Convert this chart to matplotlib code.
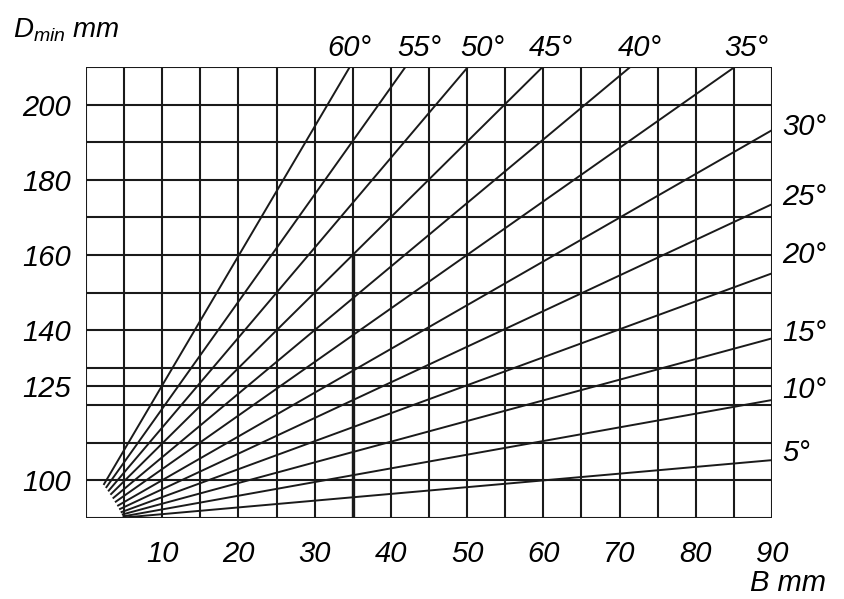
import matplotlib
matplotlib.use('Agg')
import matplotlib.pyplot as plt

# fonts: italic Arial-like everywhere
matplotlib.rcParams.update({'font.family': 'Liberation Sans', 'font.style': 'italic',
                            'font.size': 21, 'mathtext.fontset': 'custom',
                            'mathtext.it': 'Liberation Sans:italic',
                            'mathtext.rm': 'Liberation Sans:italic'})

# grid of the nomogram
grid_b = [0, 5, 10, 15, 20, 25, 30, 35, 40, 45, 50, 55, 60, 65, 70, 75, 80, 85, 90]
grid_d = [90, 100, 110, 120, 125, 130, 140, 150, 160, 170, 180, 190, 200, 210]
xtick_vals = [10, 20, 30, 40, 50, 60, 70, 80, 90]
ytick_vals = [100, 125, 140, 160, 180, 200]

# fan lines, one per angle: start point on the small arc, end point on the frame
angles = [5, 10, 15, 20, 25, 30, 35, 40, 45, 50, 55, 60]
start_b = [4.85, 4.8, 4.7, 4.55, 4.35, 4.1, 3.8, 3.5, 3.2, 2.9, 2.6, 2.3]
start_d = [90.1, 90.4, 90.9, 91.5, 92.3, 93.2, 94.2, 95.2, 96.2, 97.1, 98.0, 98.8]
end_b = [90, 90, 90, 90, 90, 90, 85.1, 71.4, 59.9, 50.1, 41.9, 34.6]
end_d = [105.4, 121.4, 137.8, 155.1, 173.5, 193.2, 210, 210, 210, 210, 210, 210]

# where the angle labels sit
top_labels = [35, 40, 45, 50, 55, 60]
top_label_b = [86.6, 72.7, 61.0, 52.0, 43.7, 34.6]
side_labels = [5, 10, 15, 20, 25, 30]
side_label_d = [107.3, 124.0, 139.2, 160.0, 175.4, 194.0]

fig = plt.figure(figsize=(8.45, 5.99), dpi=100)
ax = fig.add_axes([0.1018, 0.1352, 0.8118, 0.7529])
ax.set_xlim(0, 90)
ax.set_ylim(90, 210)

col = '#1a1a1a'
for b in grid_b:
    ax.axvline(b, color=col, lw=1.5, zorder=1)
for d in grid_d:
    ax.axhline(d, color=col, lw=1.5, zorder=1)
# heavier segment at B = 35
ax.plot([35, 35], [90, 160], color=col, lw=2.4, zorder=1)

for i in range(len(angles)):
    ax.plot([start_b[i], end_b[i]], [start_d[i], end_d[i]], color=col, lw=1.4,
            solid_capstyle='butt', zorder=2)

for ang, b in zip(top_labels, top_label_b):
    ax.text(b, 213.0, '%d°' % ang, ha='center', va='baseline', clip_on=False)
for ang, d in zip(side_labels, side_label_d):
    ax.text(91.4, d, '%d°' % ang, ha='left', va='center', clip_on=False)

ax.set_xticks(xtick_vals)
ax.set_yticks(ytick_vals)
ax.tick_params(length=0)
ax.tick_params(axis='x', pad=16)
ax.tick_params(axis='y', pad=11)
for s in ax.spines.values():
    s.set_visible(False)

fig.text(13 / 845, 1 - 37 / 599, r'$D_{min}$ mm', ha='left', va='baseline', fontsize=20)
fig.text(826 / 845, 1 - 591 / 599, 'B mm', ha='right', va='baseline', fontsize=21)

fig.savefig('out.png', dpi=100)
